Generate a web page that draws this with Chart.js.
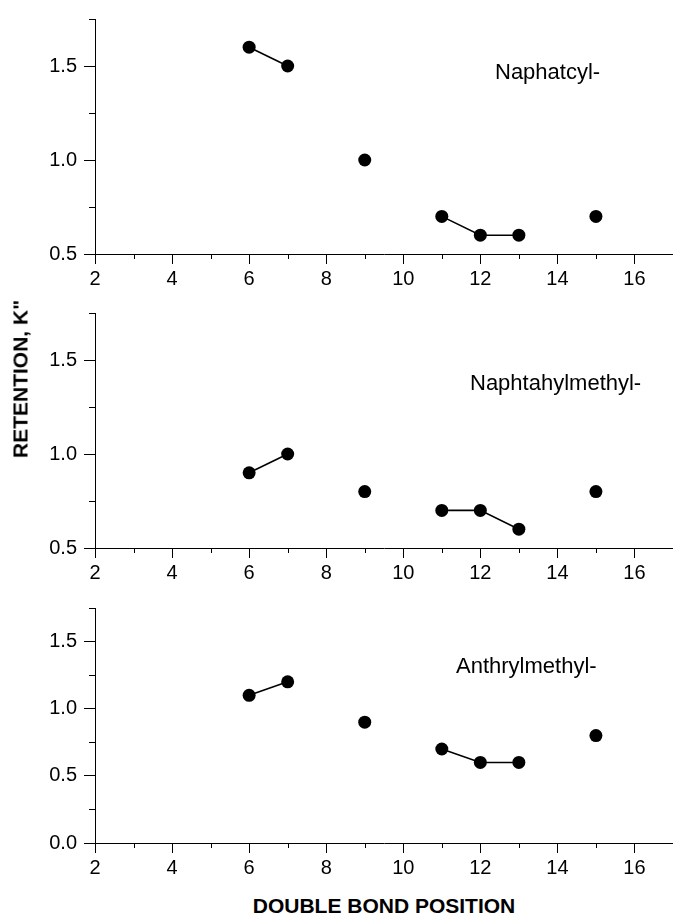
<!DOCTYPE html>
<html>
<head>
<meta charset="utf-8">
<script src="https://cdn.jsdelivr.net/npm/chart.js@4.4.0/dist/chart.umd.min.js"></script>
<style>
  html, body { margin: 0; padding: 0; background: #fff; }
  body { width: 673px; height: 918px; position: relative; overflow: hidden;
         font-family: "Liberation Sans", Arial, Helvetica, sans-serif; color: #000; }
  canvas.panel { position: absolute; left: 0; }
  .lbl { position: absolute; font-size: 22px; line-height: 22px; white-space: nowrap; }
  .ytitle { position: absolute; left: 20px; top: 379px; font-weight: bold; font-size: 21px;
            line-height: 21px; white-space: nowrap; transform: translate(-50%, -50%) rotate(-90deg); }
  .xtitle { position: absolute; left: 384px; top: 905px; font-weight: bold; font-size: 21px;
            line-height: 21px; white-space: nowrap; transform: translate(-50%, -50%); }
</style>
</head>
<body>
<canvas id="c1" class="panel" width="673" height="290" style="top:0px"></canvas>
<canvas id="c2" class="panel" width="673" height="290" style="top:294px"></canvas>
<canvas id="c3" class="panel" width="673" height="290" style="top:589px"></canvas>
<div class="lbl" style="left:495px; top:61px">Naphatcyl-</div>
<div class="lbl" style="left:470px; top:372px">Naphtahylmethyl-</div>
<div class="lbl" style="left:456px; top:655px">Anthrylmethyl-</div>
<div class="ytitle">RETENTION, K"</div>
<div class="xtitle">DOUBLE BOND POSITION</div>
<script>
// ---- data ----
const positions = [6, 7, 9, 11, 12, 13, 15];
const naphatcyl = [1.6, 1.5, 1.0, 0.7, 0.6, 0.6, 0.7];
const naphthylmethyl = [0.9, 1.0, 0.8, 0.7, 0.7, 0.6, 0.8];
const anthrylmethyl = [1.1, 1.2, 0.9, 0.7, 0.6, 0.6, 0.8];
const connectedGroups = [[6, 7], [9], [11, 12, 13], [15]];

const xMajorTicks = [2, 4, 6, 8, 10, 12, 14, 16];
const xMinorTicks = [3, 5, 7, 9, 11, 13, 15, 17];
const yMajorTicksUpper = [0.5, 1.0, 1.5];
const yMinorTicksUpper = [0.75, 1.25, 1.75];
const yMajorTicksLower = [0.0, 0.5, 1.0, 1.5];
const yMinorTicksLower = [0.25, 0.75, 1.25, 1.75];

const FONT = '"Liberation Sans", Arial, Helvetica, sans-serif';

const minorTicksPlugin = {
  id: 'minorTicks',
  afterDraw(chart, args, opts) {
    const ctx = chart.ctx, xs = chart.scales.x, ys = chart.scales.y;
    ctx.save();
    ctx.strokeStyle = '#000';
    ctx.lineWidth = 1;
    ctx.beginPath();
    (opts.x || []).forEach(v => {
      const px = Math.round(xs.getPixelForValue(v)) + 0.5;
      ctx.moveTo(px, xs.top); ctx.lineTo(px, xs.top + 5);
    });
    (opts.y || []).forEach(v => {
      const py = Math.round(ys.getPixelForValue(v)) + 0.5;
      ctx.moveTo(ys.right, py); ctx.lineTo(ys.right - 6, py);
    });
    ctx.stroke();
    ctx.restore();
  }
};

function buildDatasets(values) {
  return connectedGroups.map(group => ({
    data: group.map(x => ({ x: x, y: values[positions.indexOf(x)] })),
    showLine: group.length > 1,
    borderColor: '#000',
    borderWidth: 1.6,
    backgroundColor: '#000',
    pointBackgroundColor: '#000',
    pointBorderWidth: 0,
    pointRadius: 6.5,
    pointHoverRadius: 6.5,
    clip: false
  }));
}

function makePanel(id, values, yMin, yMajor, yMinor) {
  new Chart(document.getElementById(id), {
    type: 'scatter',
    data: { datasets: buildDatasets(values) },
    options: {
      responsive: false,
      animation: false,
      devicePixelRatio: 1,
      layout: { autoPadding: false, padding: { top: 14, left: 0, right: 0, bottom: 0 } },
      plugins: {
        legend: { display: false },
        tooltip: { enabled: false },
        minorTicks: { x: xMinorTicks, y: yMinor }
      },
      scales: {
        x: {
          type: 'linear', min: 2, max: 17,
          afterBuildTicks: s => { s.ticks = xMajorTicks.map(v => ({ value: v })); },
          afterFit: s => { s.height = 36; },
          ticks: { font: { size: 20, family: FONT }, color: '#000', padding: 3,
                   maxRotation: 0, autoSkip: false, callback: v => String(v) },
          grid: { drawOnChartArea: false, tickLength: 10, tickColor: '#000', tickWidth: 1 },
          border: { color: '#000', width: 1 }
        },
        y: {
          type: 'linear', min: yMin, max: 1.75,
          afterBuildTicks: s => { s.ticks = yMajor.map(v => ({ value: v })); },
          afterFit: s => { s.width = 95; },
          ticks: { font: { size: 20, family: FONT }, color: '#000', padding: 7,
                   autoSkip: false, callback: v => Number(v).toFixed(1) },
          grid: { drawOnChartArea: false, tickLength: 11, tickColor: '#000', tickWidth: 1 },
          border: { color: '#000', width: 1 }
        }
      }
    },
    plugins: [minorTicksPlugin]
  });
}

makePanel('c1', naphatcyl, 0.5, yMajorTicksUpper, yMinorTicksUpper);
makePanel('c2', naphthylmethyl, 0.5, yMajorTicksUpper, yMinorTicksUpper);
makePanel('c3', anthrylmethyl, 0.0, yMajorTicksLower, yMinorTicksLower);
</script>
</body>
</html>
